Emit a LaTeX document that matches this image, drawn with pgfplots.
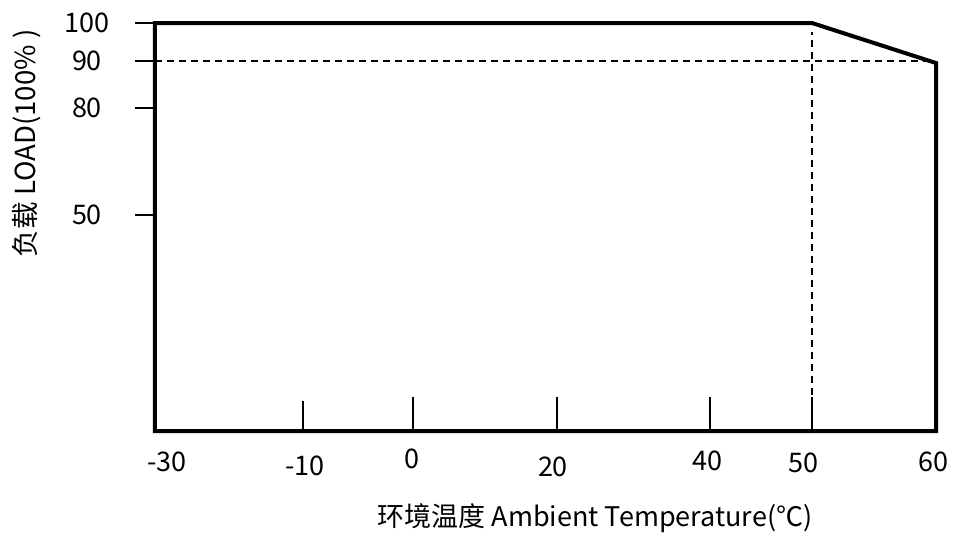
\documentclass[border=0pt]{standalone}
\usepackage{fontspec}
\setmainfont{Noto Sans CJK SC}
\usepackage{pgfplots}
\pgfplotsset{compat=1.18}
\begin{document}
\begin{tikzpicture}
\begin{axis}[
  anchor=origin, at={(0pt,0pt)},
  x=0.5pt, y=0.5pt,
  xmin=0, xmax=781, ymin=0, ymax=408,
  axis line style={draw=none},
  clip=false,
  /pgf/number format/assume math mode=true,
  xtick={12,150,257,398,552,648,778},
  xticklabels={-30,\raisebox{-2.25pt}{-10},\raisebox{1.25pt}{0},\raisebox{-2.75pt}{20},\raisebox{0.25pt}{40},\raisebox{-0.75pt}{50},60},
  xtick style={draw=none},
  xticklabel style={anchor=base, yshift=-10pt, font=\fontsize{13.5}{14}\selectfont},
  ytick={216,323,370,408},
  yticklabels={50,80,90,100},
  ytick pos=left, tick align=outside, major tick length=10pt,
  ytick style={line width=0.75pt, black},
  yticklabel style={anchor=center, xshift=-24pt, font=\fontsize{13.5}{14}\selectfont},
  xlabel={环境温度 Ambient Temperature(℃)},
  ylabel={负载 LOAD(100\% )},
  every axis x label/.style={at={(axis cs:440,-87)}, anchor=center, font=\fontsize{13.5}{14}\selectfont},
  every axis y label/.style={at={(axis cs:-128,287.5)}, rotate=90, anchor=center, font=\fontsize{13.8}{14}\selectfont},
]
% derating curve and frame
\addplot[black, line width=2pt, line join=miter, mark=none]
  coordinates {(0,0) (0,408) (657,408) (781,368) (781,0)} \closedcycle;

% dashed guides
\addplot[black, line width=0.75pt, dash pattern=on 3.5pt off 2.5pt, mark=none]
  coordinates {(0,370) (779,370)};
\addplot[black, line width=0.75pt, dash pattern=on 3.5pt off 2.5pt, mark=none]
  coordinates {(657,0) (657,399)};

% inner x ticks
\addplot[black, line width=1.2pt, mark=none] coordinates {(148,0) (148,30)};
\addplot[black, line width=1.2pt, mark=none] coordinates {(258,0) (258,34.5)};
\addplot[black, line width=1.2pt, mark=none] coordinates {(402,0) (402,34.5)};
\addplot[black, line width=1.2pt, mark=none] coordinates {(555,0) (555,34.5)};
\addplot[black, line width=1.2pt, mark=none] coordinates {(657,0) (657,34.5)};
\end{axis}
\pgfresetboundingbox
\path[use as bounding box] (-77.5pt,-53.5pt) rectangle (399.5pt,215.5pt);
\end{tikzpicture}
\end{document}
